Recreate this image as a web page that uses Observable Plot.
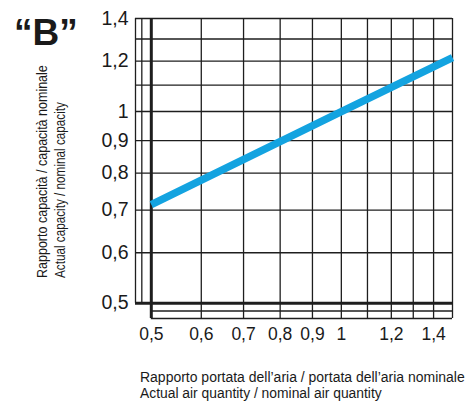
<!DOCTYPE html>
<html><head><meta charset="utf-8">
<script src="https://cdn.jsdelivr.net/npm/d3@7"></script>
<script src="https://cdn.jsdelivr.net/npm/@observablehq/plot@0.6"></script>
<style>body{margin:0;background:#fff;}</style>
</head><body><div id="chart"></div>
<script>
const chartTitle = "“B”";
const xTickValues = [0.5, 0.6, 0.7, 0.8, 0.9, 1, 1.2, 1.4];
const yTickValues = [0.5, 0.6, 0.7, 0.8, 0.9, 1, 1.2, 1.4];
const xGridValues = [0.5, 0.6, 0.7, 0.8, 0.9, 1, 1.1, 1.2, 1.3, 1.4, 1.5];
const yGridValues = [0.5, 0.6, 0.7, 0.8, 0.9, 1, 1.1, 1.2, 1.3, 1.4];
const xGridExtra = [0.472, 0.483];
const yGridExtra = [0.473, 0.486];
const airRatio = [0.5, 1, 1.5];
const capacityRatio = [0.714, 1, 1.215];
const xTitleLines = ["Rapporto portata dell’aria / portata dell’aria nominale", "Actual air quantity / nominal air quantity"];
const yTitleLines = ["Rapporto capacità / capacità nominale", "Actual capacity / nominal capacity"];

const curve = airRatio.map((x, i) => ({x, y: capacityRatio[i]}));
const fmt = d => String(d).replace(".", ",");
const xMin = 0.472, xMax = 1.5, yMin = 0.473, yMax = 1.4;
const ink = "#1e1e1e";
const font = "'Liberation Sans', Arial, sans-serif";

const plot = Plot.plot({
  width: 469, height: 403,
  marginLeft: 135, marginRight: 17, marginTop: 18, marginBottom: 85,
  style: {fontFamily: font, fontSize: "17px", color: "#1a1a1a", background: "#fff"},
  x: {type: "log", domain: [xMin, xMax], axis: null},
  y: {type: "log", domain: [yMin, yMax], axis: null},
  marks: [
    Plot.ruleX(xGridValues, {x: d => d, y1: yMin, y2: yMax, stroke: ink, strokeWidth: 1.3}),
    Plot.ruleX(xGridExtra, {x: d => d, y1: 0.5, y2: yMax, stroke: ink, strokeWidth: 1.3}),
    Plot.ruleY(yGridValues, {y: d => d, x1: xMin, x2: xMax, stroke: ink, strokeWidth: 1.3}),
    Plot.ruleY(yGridExtra, {y: d => d, x1: 0.5, x2: xMax, stroke: ink, strokeWidth: 1.3}),
    Plot.ruleX([0.5], {x: d => d, y1: yMin, y2: yMax, stroke: ink, strokeWidth: 3}),
    Plot.ruleY([0.5], {y: d => d, x1: xMin, x2: xMax, stroke: ink, strokeWidth: 3}),
    Plot.line(curve, {x: "x", y: "y", stroke: "#13a3e0", strokeWidth: 7.5, strokeLinecap: "butt"}),
    Plot.text(xTickValues, {x: d => d, text: fmt, frameAnchor: "bottom", lineAnchor: "top", dy: 9.5, fontSize: 17.5, fill: "#1a1a1a"}),
    Plot.text(yTickValues, {y: d => d, text: fmt, frameAnchor: "left", textAnchor: "end", dx: -7, fontSize: 19.5, fill: "#1a1a1a"})
  ]
});
document.getElementById("chart").appendChild(plot);

const svg = d3.select(plot);
svg.append("text").attr("x", 14).attr("y", 45).attr("text-anchor", "start")
  .attr("font-family", font).attr("font-weight", "bold").attr("font-size", 37)
  .attr("fill", "#1a1a1a").text(chartTitle);

function squeezed(t, len, place) {
  const el = svg.append("text").attr("text-anchor", "start")
    .attr("font-family", font).attr("font-size", 15.5)
    .attr("fill", "#1a1a1a").text(t);
  const natural = el.node().getComputedTextLength();
  el.attr("transform", `${place} scale(${len / natural},1)`);
}
const xt = [{y: 382, len: 325}, {y: 398, len: 242}];
xTitleLines.forEach((t, i) => squeezed(t, xt[i].len, `translate(140,${xt[i].y})`));
const yt = [{x: 47, len: 213}, {x: 65, len: 176}];
yTitleLines.forEach((t, i) => squeezed(t, yt[i].len, `translate(${yt[i].x},278) rotate(-90)`));
</script>
</body></html>
